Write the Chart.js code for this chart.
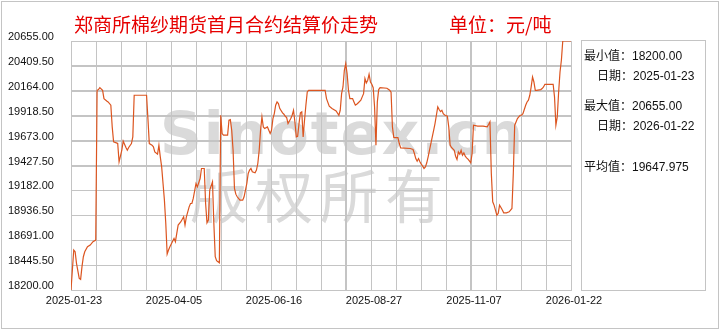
<!DOCTYPE html>
<html>
<head>
<meta charset="utf-8">
<title>郑商所棉纱期货首月合约结算价走势</title>
<script src="https://cdn.jsdelivr.net/npm/chart.js@4/dist/chart.umd.min.js"></script>
<style>
  html, body { margin: 0; padding: 0; background: #fff; }
  #chart { display: block; }
  #panel { position: absolute; left: 581px; top: 40px; width: 123px; height: 249px; border: 1px solid #c4c4c4; }
  .head { position: absolute; top: 14px; color: #e60000; font: 19px/19px "Noto Sans CJK SC", sans-serif; white-space: nowrap; }
  #title { left: 74px; }
  #unit { left: 449px; }
  .stat { position: absolute; font: 12px/14px "Liberation Sans", "Noto Sans CJK SC", sans-serif; color: #111; white-space: nowrap; }
</style>
</head>
<body>
<canvas id="chart" width="720" height="330"></canvas>
<div id="panel"></div>
<div class="head" id="title">郑商所棉纱期货首月合约结算价走势</div>
<div class="head" id="unit">单位：元/吨</div>
<div class="stat" style="left:584px;top:49px"></div>
<div class="stat" style="left:597px;top:69px"></div>
<div class="stat" style="left:584px;top:99px"></div>
<div class="stat" style="left:597px;top:119px"></div>
<div class="stat" style="left:584px;top:160px"></div>
<script>
// days since 2025-01-23
const DAYS = [
  0, 2, 3, 4, 6, 7, 8, 9, 10, 12, 14, 16, 18, 19, 20, 21, 23, 24, 26, 27,
  29, 30, 31, 33, 34, 35, 37, 38, 40, 41, 42, 44, 45, 46, 55, 56, 57, 59, 60, 61,
  63, 64, 65, 66, 67, 68, 69, 70, 71, 72, 75, 76, 77, 78, 80, 82, 83, 84, 86, 87,
  88, 89, 91, 92, 94, 95, 97, 98, 99, 100, 101, 103, 104, 105, 106, 107, 108, 109, 110, 111,
  114, 115, 116, 117, 118, 119, 120, 121, 123, 125, 126, 127, 128, 129, 130, 131, 132, 134, 135, 136,
  137, 138, 139, 140, 141, 143, 145, 146, 147, 148, 149, 150, 151, 152, 154, 155, 156, 157, 158, 160,
  161, 162, 163, 164, 165, 166, 167, 168, 169, 170, 171, 172, 173, 185, 186, 188, 190, 193, 195, 196,
  197, 198, 199, 200, 201, 202, 203, 205, 206, 207, 208, 209, 211, 212, 213, 214, 215, 216, 217, 218,
  219, 220, 221, 222, 223, 224, 225, 230, 232, 233, 234, 235, 238, 239, 240, 247, 249, 250, 251, 252,
  253, 254, 255, 256, 257, 258, 259, 260, 261, 263, 264, 265, 266, 267, 268, 269, 270, 271, 272, 274,
  275, 276, 277, 279, 280, 281, 282, 283, 284, 285, 286, 287, 288, 289, 290, 291, 292, 293, 296, 300,
  303, 304, 305, 306, 307, 308, 309, 310, 311, 312, 313, 314, 315, 317, 319, 320, 321, 322, 323, 324,
  325, 326, 327, 328, 329, 330, 331, 332, 333, 334, 335, 336, 337, 338, 339, 342, 343, 344, 345, 351,
  352, 353, 354, 355, 356, 357, 358, 364
];
// settlement price, yuan/ton
const PRICES = [
  18200, 18594, 18577, 18463, 18315, 18305, 18430, 18528, 18577, 18627, 18643, 18676, 18692, 20169, 20176, 20195, 20169, 20087, 20064, 20054,
  20022, 19808, 19660, 19651, 19645, 19464, 19578, 19667, 19605, 19578, 19605, 19644, 19710, 20120, 20120, 19890, 19644, 19628, 19611, 19562,
  19539, 19628, 19513, 19414, 19250, 19086, 18856, 18554, 18594, 18627, 18709, 18676, 18758, 18840, 18873, 18922, 18840, 18922, 19020, 19053,
  19053, 19103, 19250, 19217, 19299, 19398, 19398, 19053, 18863, 18889, 19185, 19267, 18856, 18528, 18489, 18479, 18469, 19923, 19743, 19726,
  19726, 19874, 19880, 19775, 19578, 19201, 19145, 19119, 19086, 19086, 19119, 19185, 19250, 19349, 19382, 19398, 19365, 19355, 19382, 19447,
  19578, 19775, 19907, 19808, 19792, 19808, 19743, 19775, 19890, 19939, 20022, 20054, 20038, 19989, 19946, 19933, 19913, 19900, 19841, 19890,
  19923, 19972, 19857, 19710, 19716, 19841, 19946, 19956, 19710, 19874, 20022, 20153, 20169, 20169, 20087, 20012, 19989, 19966, 19923, 19972,
  20136, 20202, 20366, 20432, 20333, 20169, 20087, 20087, 20054, 20022, 20031, 20044, 20071, 20104, 20136, 20284, 20241, 20268, 20327, 20251,
  20228, 20195, 20005, 19628, 20054, 20176, 20195, 20189, 20169, 20150, 19808, 19703, 19703, 19644, 19601, 19595, 19585, 19546, 19496, 19470,
  19496, 19464, 19441, 19421, 19398, 19414, 19454, 19513, 19578, 19710, 19775, 19841, 19923, 20005, 19979, 19959, 19972, 19939, 19926, 19913,
  19808, 19628, 19605, 19578, 19519, 19487, 19562, 19539, 19578, 19529, 19552, 19519, 19503, 19490, 19473, 19454, 19546, 19825, 19815, 19815,
  19808, 19831, 19857, 19349, 19070, 19037, 18988, 18938, 18955, 19037, 19014, 18988, 18961, 18961, 18971, 18988, 19004, 19349, 19825, 19857,
  19890, 19907, 19923, 19923, 19939, 19979, 20022, 20054, 20071, 20120, 20202, 20300, 20251, 20169, 20169, 20176, 20186, 20202, 20228, 20228,
  20104, 19825, 19907, 20153, 20350, 20465, 20655, 20655
];
const X_LABELS = ['2025-01-23', '2025-04-05', '2025-06-16', '2025-08-27', '2025-11-07', '2026-01-22'];
const Y_TICKS = [18200, 18445.5, 18691, 18936.5, 19182, 19427.5, 19673, 19918.5, 20164, 20409.5, 20655];
const STAT_LABELS = ['最小值', '日期', '最大值', '日期', '平均值'];
const STAT_VALUES = ['18200.00', '2025-01-23', '20655.00', '2026-01-22', '19647.975'];

const GRID_COLOR = '#c4c4c4';
const LINE_COLOR = '#dc5520';
const TICK_FONT = { family: 'Liberation Sans', size: 11 };
const SPAN = 364;

document.querySelectorAll('.stat').forEach((el, i) => {
  el.textContent = STAT_LABELS[i] + '：' + STAT_VALUES[i];
});

// watermark + outer frame behind everything, grid lines from the scale ticks
const backdrop = {
  id: 'backdrop',
  beforeDraw(chart) {
    const ctx = chart.ctx;
    ctx.save();
    ctx.strokeStyle = GRID_COLOR;
    ctx.lineWidth = 1;
    ctx.strokeRect(1.5, 1.5, 717, 327);
    ctx.fillStyle = '#dadada';
    ctx.textBaseline = 'alphabetic';
    ctx.textAlign = 'left';
    ctx.font = 'bold 58px "DejaVu Sans"';
    ctx.letterSpacing = '2px';
    ctx.fillText('Sinotex.cn', 160, 154);
    ctx.font = '58px "Noto Sans CJK SC"';
    ctx.letterSpacing = '7px';
    ctx.fillText('版权所有', 190, 218);
    ctx.restore();
  },
  beforeDatasetsDraw(chart) {
    const { ctx, chartArea: a, scales: { x, y } } = chart;
    ctx.save();
    ctx.strokeStyle = GRID_COLOR;
    ctx.lineWidth = 1;
    ctx.beginPath();
    x.ticks.forEach(t => {
      const px = Math.round(x.getPixelForValue(t.value)) + 0.5;
      ctx.moveTo(px, a.top);
      ctx.lineTo(px, a.bottom);
    });
    y.ticks.forEach(t => {
      const py = Math.round(y.getPixelForValue(t.value)) + 0.5;
      ctx.moveTo(a.left, py);
      ctx.lineTo(a.right, py);
    });
    ctx.stroke();
    ctx.restore();
  },
};

new Chart(document.getElementById('chart'), {
  type: 'line',
  data: {
    datasets: [{
      data: DAYS.map((d, i) => ({ x: d, y: PRICES[i] })),
      borderColor: LINE_COLOR,
      borderWidth: 1.2,
      pointRadius: 0,
      tension: 0,
      fill: false,
    }],
  },
  options: {
    responsive: false,
    animation: false,
    layout: { padding: { top: 41, right: 149, left: 8, bottom: 0 } },
    plugins: { legend: { display: false }, tooltip: { enabled: false } },
    scales: {
      x: {
        type: 'linear',
        min: 0,
        max: SPAN,
        afterBuildTicks: s => { s.ticks = Array.from({ length: 21 }, (_, i) => ({ value: i * SPAN / 20 })); },
        afterFit: s => { s.height = 40; },
        grid: { color: GRID_COLOR, lineWidth: 1, drawTicks: false },
        border: { color: GRID_COLOR },
        ticks: {
          autoSkip: false, maxRotation: 0, padding: 4, labelOffset: 3,
          color: '#111', font: TICK_FONT,
          callback: (v, i) => i % 4 === 0 ? X_LABELS[i / 4] : '',
        },
      },
      y: {
        min: Y_TICKS[0],
        max: Y_TICKS[Y_TICKS.length - 1],
        afterBuildTicks: s => { s.ticks = Y_TICKS.map(v => ({ value: v })); },
        afterFit: s => { s.width = 63; },
        grid: { color: GRID_COLOR, lineWidth: 1, drawTicks: false },
        border: { color: GRID_COLOR },
        ticks: {
          crossAlign: 'far', labelOffset: -4, color: '#111', font: TICK_FONT,
          callback: v => Number(v).toFixed(2),
        },
      },
    },
  },
  plugins: [backdrop],
});
</script>
</body>
</html>
